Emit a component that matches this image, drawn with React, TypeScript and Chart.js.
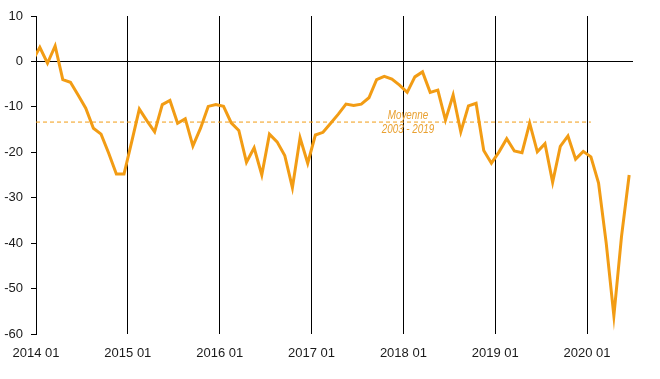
import React, { useEffect, useRef } from "react";
import { Chart, registerables } from "chart.js";

Chart.register(...registerables);

// Monthly values, first entry = 2013 12 (partly clipped), then 2014 01 ... 2020 06
const startYear = 2014;
const values = [
  0.0,
  3.1, -0.4, 3.4, -4.0, -4.6, -7.4, -10.3, -14.7, -16.0, -20.2, -24.8, -24.8,
  -17.7, -10.5, -13.1, -15.5, -9.5, -8.6, -13.6, -12.6, -18.6, -14.7, -9.9, -9.5,
  -9.9, -13.5, -15.2, -22.2, -19.0, -25.0, -16.0, -17.7, -20.7, -27.8, -16.8, -22.4,
  -16.2, -15.6, -13.6, -11.6, -9.4, -9.7, -9.4, -8.0, -4.0, -3.3, -3.9, -5.2,
  -6.8, -3.4, -2.3, -6.8, -6.3, -12.9, -7.4, -15.5, -9.8, -9.2, -19.6, -22.4,
  -19.9, -17.0, -19.7, -20.1, -13.6, -19.9, -18.1, -26.6, -18.7, -16.4, -21.5, -19.8,
  -21.0, -26.8, -40.0, -56.0, -38.5, -25.0,
];
const meanValue = -13.35;
const meanEnd = 72.5; // months from 2014 01
const meanLabel = ["Moyenne", "2003 - 2019"];
const meanLabelAt = 48.6;
const xTicks = [0, 12, 24, 36, 48, 60, 72];
const xTickLabels = ["2014 01", "2015 01", "2016 01", "2017 01", "2018 01", "2019 01", "2020 01"];
const yTicks = [-60, -50, -40, -30, -20, -10, 0, 10];
const xMax = 78;

const ORANGE = "#F29C14";
const FONT = '"Liberation Sans", Arial, sans-serif';

export default function App() {
  const ref = useRef<HTMLCanvasElement | null>(null);
  useEffect(() => {
    if (!ref.current) return;
    const labelPlugin = {
      id: "meanLabel",
      afterDatasetsDraw(chart: any) {
        const { ctx, scales } = chart;
        const x = scales.x.getPixelForValue(meanLabelAt);
        const y = scales.y.getPixelForValue(meanValue);
        ctx.save();
        ctx.fillStyle = "#E9A030";
        ctx.font = 'italic 12px "Liberation Sans", Arial, sans-serif';
        ctx.textAlign = "center";
        ctx.textBaseline = "middle";
        ctx.translate(x, y);
        ctx.scale(0.82, 1);
        ctx.fillText(meanLabel[0], 0, -6);
        ctx.fillText(meanLabel[1], 0, 8);
        ctx.restore();
      },
    };
    const chart = new Chart(ref.current, {
      type: "line",
      data: {
        datasets: [
          {
            data: values.map((v, i) => ({ x: i - 0.5, y: v })),
            borderColor: ORANGE,
            borderWidth: 3,
            pointRadius: 0,
            tension: 0,
            clip: 0,
          } as any,
          {
            data: [
              { x: 0, y: meanValue },
              { x: meanEnd, y: meanValue },
            ],
            borderColor: ORANGE,
            borderWidth: 1,
            borderDash: [4, 3],
            pointRadius: 0,
            tension: 0,
          },
        ],
      },
      options: {
        animation: false,
        responsive: true,
        maintainAspectRatio: false,
        layout: { padding: { top: 16, right: 27, left: 0, bottom: 0 } },
        plugins: { legend: { display: false }, tooltip: { enabled: false } },
        scales: {
          x: {
            type: "linear",
            min: 0,
            max: xMax,
            afterBuildTicks: (s: any) => {
              s.ticks = xTicks.map((v) => ({ value: v }));
            },
            afterFit: (s: any) => {
              s.height = 45;
            },
            ticks: {
              autoSkip: false,
              maxRotation: 0,
              padding: 12,
              color: "#1a1a1a",
              font: { family: FONT, size: 13 },
              callback: (v: any) => xTickLabels[xTicks.indexOf(v)] ?? "",
            },
            grid: {
              drawTicks: false,
              color: (c: any) => (c.tick && c.tick.value === 0 ? "rgba(0,0,0,0)" : "#000"),
              lineWidth: 1,
            },
            border: { display: false },
          },
          y: {
            type: "linear",
            min: -60,
            max: 10,
            afterBuildTicks: (s: any) => {
              s.ticks = yTicks.map((v) => ({ value: v }));
            },
            afterFit: (s: any) => {
              s.width = 36;
            },
            ticks: {
              padding: 8,
              color: "#1a1a1a",
              font: { family: FONT, size: 13 },
            },
            grid: {
              drawTicks: true,
              tickLength: 5,
              tickColor: "#000",
              color: (c: any) => (c.tick && c.tick.value === 0 ? "#000" : "rgba(0,0,0,0)"),
              lineWidth: 1,
            },
            border: { display: true, color: "#000", width: 1 },
          },
        },
      },
      plugins: [labelPlugin],
    });
    return () => chart.destroy();
  }, []);
  return (
    <div style={{ position: "absolute", left: 0, top: 0, width: 660, height: 379, background: "#fff" }}>
      <canvas ref={ref} />
    </div>
  );
}
